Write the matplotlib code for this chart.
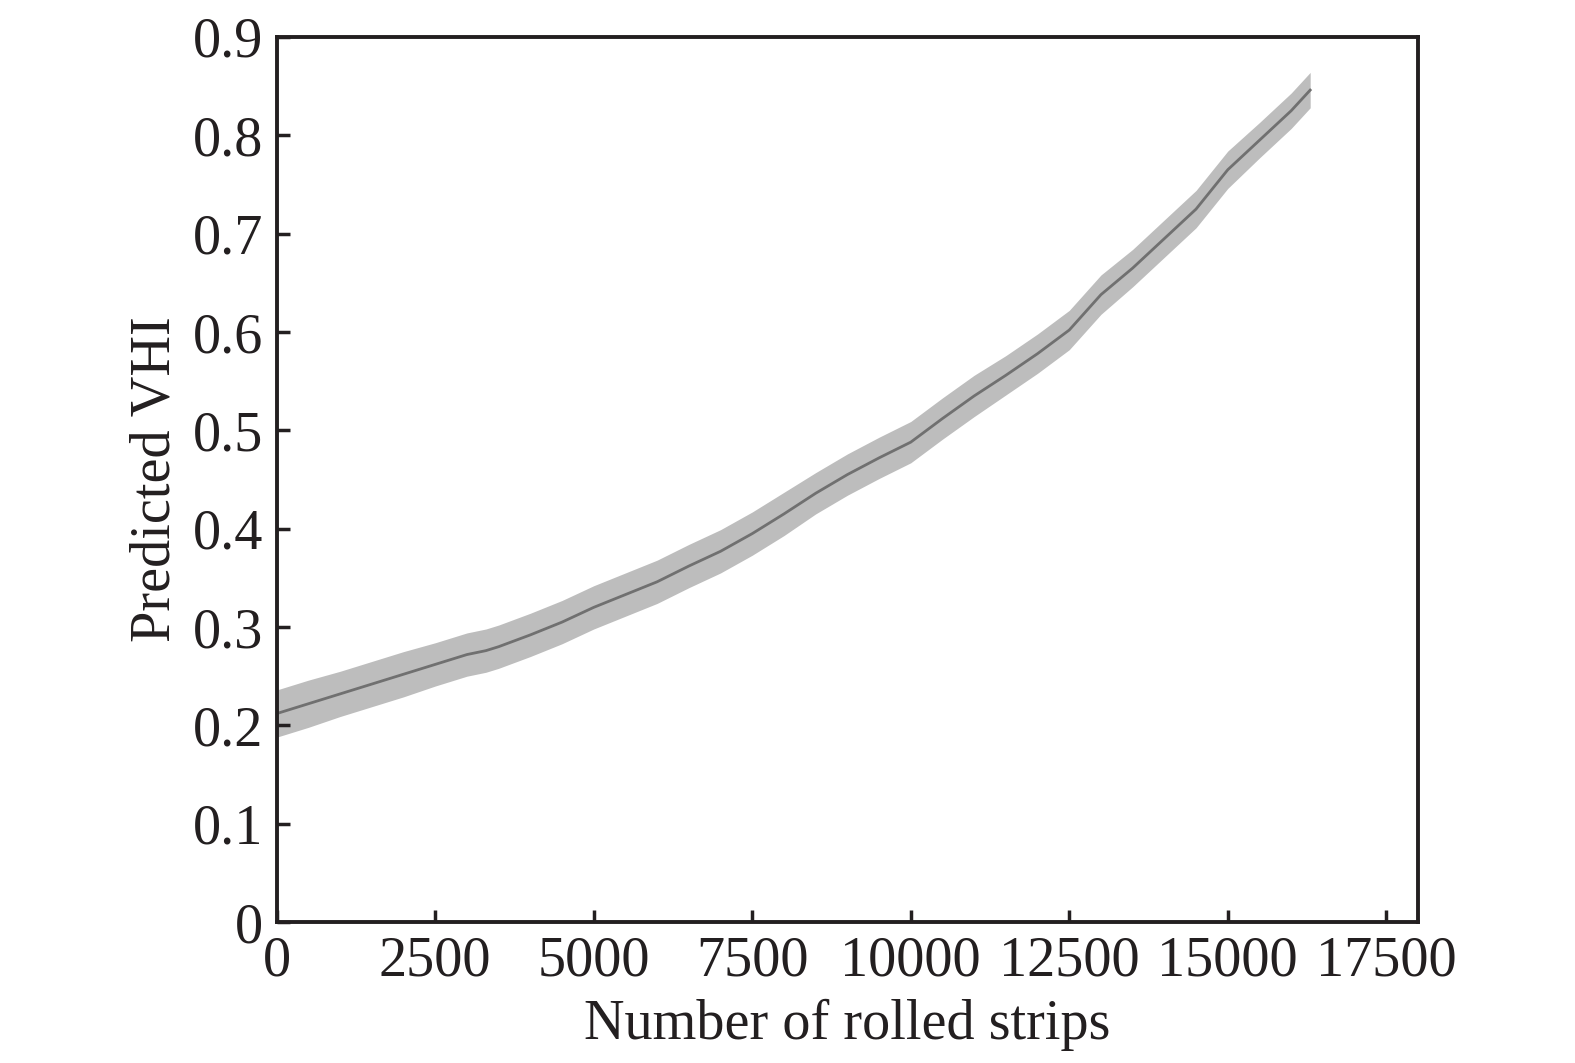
import matplotlib
matplotlib.use("Agg")
import matplotlib.pyplot as plt
import numpy as np

strips = [0, 500, 1000, 1500, 2000, 2500, 3000, 3300, 3500, 4000, 4500, 5000, 5500, 6000,
          6500, 7000, 7500, 8000, 8500, 9000, 9500, 10000, 10500, 11000, 11500, 12000,
          12500, 13000, 13500, 14000, 14500, 15000, 15500, 16000, 16300]
vhi = [0.212, 0.222, 0.232, 0.242, 0.252, 0.262, 0.272, 0.276, 0.280, 0.292, 0.305, 0.320,
       0.333, 0.346, 0.362, 0.377, 0.395, 0.415, 0.436, 0.455, 0.472, 0.488, 0.512, 0.535,
       0.556, 0.578, 0.602, 0.638, 0.665, 0.695, 0.725, 0.765, 0.795, 0.825, 0.846]
half_width = [0.024, 0.024, 0.023, 0.023, 0.023, 0.022, 0.022, 0.022, 0.022, 0.022, 0.022, 0.022,
              0.022, 0.022, 0.022, 0.022, 0.022, 0.022, 0.021, 0.021, 0.021, 0.021, 0.021, 0.021,
              0.020, 0.020, 0.020, 0.020, 0.019, 0.019, 0.019, 0.019, 0.018, 0.018, 0.018]
xticks = [0, 2500, 5000, 7500, 10000, 12500, 15000, 17500]
yticks = [0, 0.1, 0.2, 0.3, 0.4, 0.5, 0.6, 0.7, 0.8, 0.9]
ytick_labels = ["0", "0.1", "0.2", "0.3", "0.4", "0.5", "0.6", "0.7", "0.8", "0.9"]

plt.rcParams['font.family'] = ['Liberation Serif', 'DejaVu Serif']

fig = plt.figure(figsize=(15.75, 10.63), dpi=100)
ax = fig.add_axes([0.1757, 0.1326, 0.7246, 0.8326])

x = np.array(strips)
y = np.array(vhi)
hw = np.array(half_width)
ax.fill_between(x, y - hw, y + hw, color="#bdbdbd", linewidth=0)
ax.plot(x, y, color="#707070", linewidth=2.0)

ax.set_xlim(0, 18000)
ax.set_ylim(0, 0.9)
ax.set_xticks(xticks)
ax.set_xticklabels([str(t) for t in xticks])
ax.set_yticks(yticks)
ax.set_yticklabels(ytick_labels)

for s in ax.spines.values():
    s.set_linewidth(2.8)
    s.set_color("#231f20")
ax.tick_params(direction="in", length=9, width=2.5, color="#231f20",
               labelsize=40.5, labelcolor="#231f20", pad=10)
ax.tick_params(top=False, right=False)

ax.set_xlabel("Number of rolled strips", fontsize=40.5, color="#231f20", labelpad=8)
ax.set_ylabel("Predicted VHI", fontsize=40.5, color="#231f20", labelpad=8)

fig.savefig("out.png", dpi=100)
